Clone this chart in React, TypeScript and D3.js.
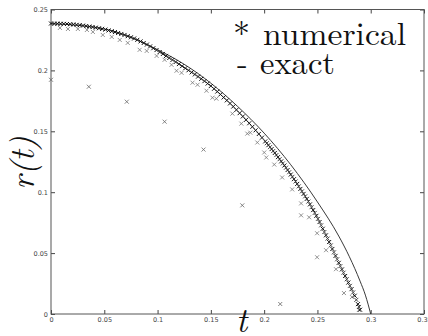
import React, { useEffect, useRef } from "react";
import * as d3 from "d3";

// exact solution r(t)
const exactT = [0, 0.05, 0.1, 0.125, 0.15, 0.175, 0.2, 0.225, 0.25, 0.27, 0.28, 0.29, 0.295, 0.3];
const exactR = [0.2385, 0.234, 0.217, 0.205, 0.1895, 0.1705, 0.1485, 0.1225, 0.092, 0.064, 0.047, 0.027, 0.0155, 0];

// dense numerical band (black crosses)
const bandT = [
  0, 0.003, 0.006, 0.009, 0.012, 0.015, 0.018, 0.021, 0.024, 0.027, 0.03, 0.033, 0.036, 0.039,
  0.042, 0.045, 0.048, 0.051, 0.054, 0.057, 0.06, 0.063, 0.066, 0.069, 0.072, 0.075, 0.078,
  0.081, 0.084, 0.087, 0.09, 0.093, 0.096, 0.099, 0.102, 0.105, 0.108, 0.111, 0.114, 0.117,
  0.12, 0.123, 0.126, 0.129, 0.132, 0.135, 0.138, 0.141, 0.144, 0.147, 0.15, 0.153, 0.156,
  0.159, 0.162, 0.165, 0.168, 0.171, 0.174, 0.177, 0.18, 0.183, 0.186, 0.189, 0.192, 0.195,
  0.198, 0.201, 0.204, 0.207, 0.21, 0.213, 0.216, 0.219, 0.222, 0.225, 0.228, 0.231, 0.234,
  0.237, 0.24, 0.243, 0.246, 0.249, 0.252, 0.255, 0.258, 0.261, 0.264, 0.267, 0.27, 0.273,
  0.276, 0.279, 0.282, 0.285, 0.288, 0.29,
];
const bandR = [
  0.2385, 0.2384, 0.2384, 0.2383, 0.2382, 0.2381, 0.2379, 0.2377, 0.2374, 0.2371, 0.2368, 0.2364,
  0.236, 0.2356, 0.2351, 0.2346, 0.2341, 0.2335, 0.2328, 0.2322, 0.2315, 0.2307, 0.2299, 0.2291,
  0.2281, 0.2272, 0.2262, 0.2251, 0.2238, 0.2225, 0.2212, 0.2197, 0.2182, 0.2167, 0.2151, 0.2135,
  0.2119, 0.2102, 0.2086, 0.2069, 0.2052, 0.2035, 0.2018, 0.2001, 0.1984, 0.1967, 0.1949, 0.1931,
  0.1912, 0.1892, 0.1872, 0.1849, 0.1826, 0.1803, 0.1778, 0.1754, 0.1729, 0.1703, 0.1676, 0.1649,
  0.1622, 0.1594, 0.1566, 0.1537, 0.1508, 0.1478, 0.1448, 0.1417, 0.1386, 0.1354, 0.1322, 0.1288,
  0.1253, 0.1219, 0.1182, 0.1145, 0.1107, 0.1068, 0.1027, 0.0986, 0.0945, 0.09, 0.0853, 0.0806,
  0.0755, 0.07, 0.0646, 0.0591, 0.0534, 0.0477, 0.042, 0.0366, 0.0312, 0.0258, 0.0204, 0.015,
  0.0081, 0.0035,
];

// extra band crosses on the steep part, where the markers crowd together
const bandSteepT = [
  0.2025, 0.2055, 0.2085, 0.2115, 0.2145, 0.2175, 0.2205, 0.2235, 0.2265, 0.2295, 0.2325,
  0.2355, 0.2385, 0.2415, 0.2445, 0.2475, 0.2505, 0.2535, 0.2565, 0.2595, 0.2625, 0.2655,
  0.2685, 0.2715, 0.2745, 0.2775, 0.2805, 0.2835, 0.2865, 0.289,
];
const bandSteepR = [
  0.1402, 0.137, 0.1338, 0.1305, 0.1271, 0.1236, 0.1201, 0.1164, 0.1126, 0.1088, 0.1048,
  0.1007, 0.0966, 0.0923, 0.0877, 0.083, 0.0781, 0.0728, 0.0673, 0.0619, 0.0563, 0.0506,
  0.0449, 0.0393, 0.0339, 0.0285, 0.0231, 0.0177, 0.0116, 0.0058,
];

// sparser grey crosses just under the band
const looseT = [
  0.0084, 0.0159, 0.0252, 0.0337, 0.0393, 0.0486, 0.057, 0.0645, 0.072, 0.0832, 0.0898, 0.0991,
  0.1066, 0.1131, 0.1178, 0.1225, 0.1328, 0.1375, 0.1459, 0.1515, 0.1552, 0.1702, 0.1786, 0.1842,
  0.187, 0.1936, 0.2001, 0.202, 0.2095, 0.2169, 0.2263, 0.2347, 0.2347, 0.2422, 0.2497, 0.2497,
  0.2581, 0.2674, 0.2749, 0.2824, 0.2889,
];
const looseR = [
  0.2349, 0.234, 0.234, 0.2332, 0.2316, 0.2291, 0.2275, 0.225, 0.2226, 0.2169, 0.216, 0.2119,
  0.2087, 0.2046, 0.1997, 0.198, 0.1899, 0.1882, 0.1833, 0.1776, 0.1768, 0.1645, 0.1563, 0.1481,
  0.1489, 0.1408, 0.1326, 0.1285, 0.1227, 0.1121, 0.1023, 0.0908, 0.081, 0.0794, 0.0663, 0.0466,
  0.0524, 0.0368, 0.0172, 0.0139, 0.0033,
];

// isolated outliers
const outT = [0, 0.0355, 0.0711, 0.1066, 0.1431, 0.1795, 0.2151];
const outR = [0.1923, 0.1866, 0.1743, 0.1579, 0.135, 0.0892, 0.0082];

const xTicks = [0, 0.05, 0.1, 0.15, 0.2, 0.25, 0.3, 0.35];
const yTicks = [0, 0.05, 0.1, 0.15, 0.2, 0.25];

const W = 428;
const H = 336;

function App() {
  const ref = useRef<SVGSVGElement>(null);

  useEffect(() => {
    const svg = d3.select(ref.current);
    svg.selectAll("*").remove();

    const x = d3.scaleLinear().domain([0, 0.35]).range([51, 424]);
    const y = d3.scaleLinear().domain([0, 0.25]).range([314, 9.5]);
    const fmt = (d: any) => String(+d.toFixed(2));

    const tickStyle = (g: any) => {
      g.select(".domain").remove();
      g.selectAll("line").attr("stroke", "#444");
      g.selectAll("text")
        .attr("fill", "#444")
        .style("font-family", "'DejaVu Sans', sans-serif")
        .style("font-size", "6.5px");
    };

    svg.append("g")
      .attr("transform", "translate(0,314)")
      .call(d3.axisBottom(x).tickValues(xTicks).tickFormat(fmt).tickSizeInner(-4).tickSizeOuter(0).tickPadding(3))
      .call(tickStyle);
    svg.append("g")
      .attr("transform", "translate(0,9.5)")
      .call(d3.axisTop(x).tickValues(xTicks).tickFormat(() => "").tickSizeInner(-4).tickSizeOuter(0))
      .call(tickStyle);
    svg.append("g")
      .attr("transform", "translate(51,0)")
      .call(d3.axisLeft(y).tickValues(yTicks).tickFormat(fmt).tickSizeInner(-4).tickSizeOuter(0).tickPadding(3))
      .call(tickStyle);
    svg.append("g")
      .attr("transform", "translate(424,0)")
      .call(d3.axisRight(y).tickValues(yTicks).tickFormat(() => "").tickSizeInner(-4).tickSizeOuter(0))
      .call(tickStyle);

    svg.append("rect")
      .attr("x", x(0)).attr("y", y(0.25))
      .attr("width", x(0.35) - x(0)).attr("height", y(0) - y(0.25))
      .attr("fill", "none").attr("stroke", "#555").attr("stroke-width", 1);

    const cross = "M-2,-2L2,2M-2,2L2,-2";
    const drawCrosses = (ts: number[], rs: number[], color: string, sw: number) => {
      svg.append("g")
        .selectAll("path")
        .data(ts.map((t, i) => [t, rs[i]]))
        .enter()
        .append("path")
        .attr("d", cross)
        .attr("transform", (d) => `translate(${x(d[0])},${y(d[1])})`)
        .attr("fill", "none")
        .attr("stroke", color)
        .attr("stroke-width", sw);
    };

    drawCrosses(looseT, looseR, "#777", 0.8);
    drawCrosses(outT, outR, "#666", 0.8);

    const line = d3.line<number>()
      .x((t) => x(t))
      .y((_, i) => y(exactR[i]))
      .curve(d3.curveMonotoneX);
    svg.append("path")
      .attr("d", line(exactT))
      .attr("fill", "none")
      .attr("stroke", "#222")
      .attr("stroke-width", 0.9);

    drawCrosses(bandT, bandR, "#111", 1);
    drawCrosses(bandSteepT, bandSteepR, "#333", 0.9);

    const serif = "'Latin Modern Roman', 'Liberation Serif', 'DejaVu Serif', serif";
    const label = (txt: string, px: number, py: number, size: number, len?: number) => {
      const t = svg.append("text")
        .attr("x", px).attr("y", py)
        .style("font-family", serif)
        .style("font-size", `${size}px`)
        .attr("fill", "#111")
        .text(txt);
      if (len) t.attr("textLength", len).attr("lengthAdjust", "spacingAndGlyphs");
      return t;
    };
    label("*", 233, 46, 34);
    label("numerical", 263, 45, 32, 143);
    label("-", 237, 74, 32);
    label("exact", 260, 74, 32, 75);

    label("t", 236, 332, 34).style("font-style", "italic");
    label("r(t)", 0, 0, 34)
      .style("font-style", "italic")
      .attr("text-anchor", "middle")
      .attr("transform", "translate(34,163) rotate(-90)");
  }, []);

  return (
    <svg
      ref={ref}
      width={W}
      height={H}
      style={{ position: "absolute", left: 0, top: 0, background: "#fff" }}
    />
  );
}

export default App;
